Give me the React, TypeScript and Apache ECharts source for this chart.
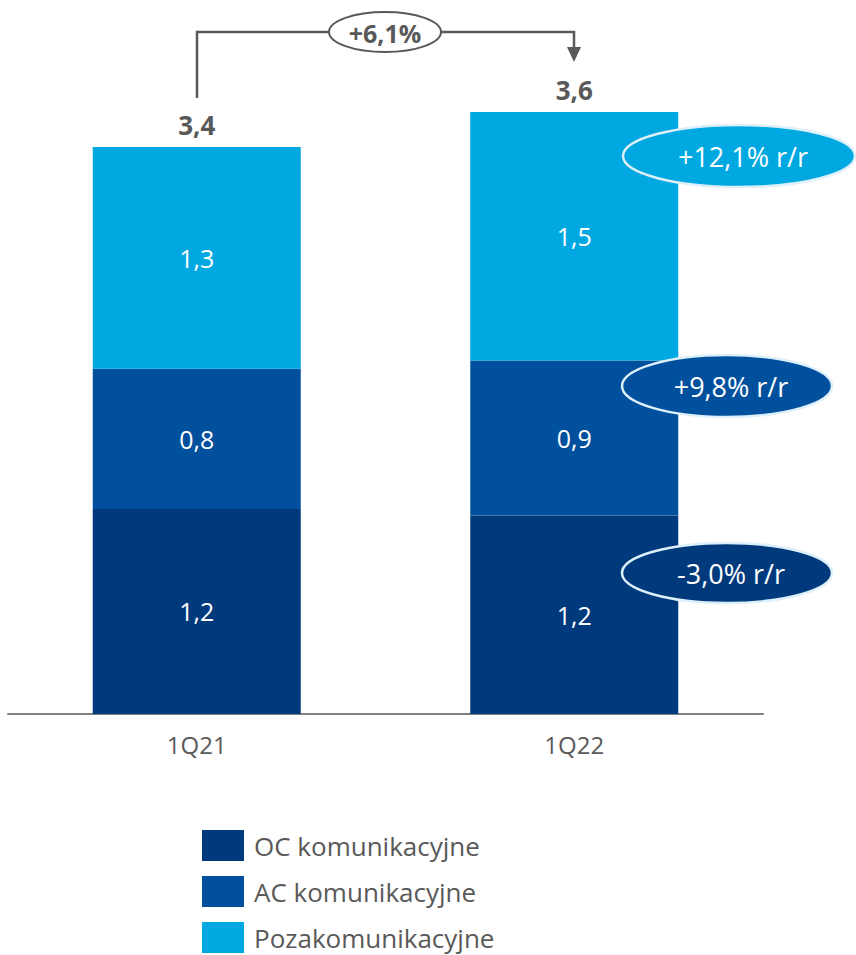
import React, { useEffect, useRef } from "react";
import * as echarts from "echarts";

const categories = ["1Q21", "1Q22"];
const seriesNames = ["OC komunikacyjne", "AC komunikacyjne", "Pozakomunikacyjne"];
const ocValues = [1.23, 1.19];
const acValues = [0.84, 0.93];
const pozaValues = [1.33, 1.49];
const totals = [3.4, 3.6];
const changeLabel = "+6,1%";
const yoyLabels = ["+12,1% r/r", "+9,8% r/r", "-3,0% r/r"];

const COLORS = ["#003A7D", "#00509E", "#00A8E1"];
const GRAY = "#595959";
const FONT = "'Open Sans', 'Noto Sans', sans-serif";

const fmt = (v: number) => v.toFixed(1).replace(".", ",");

export default function App() {
  const ref = useRef<HTMLDivElement>(null);
  useEffect(() => {
    document.body.style.margin = "0";
    const chart = echarts.init(ref.current!, undefined, { renderer: "svg" });
    const segLabel = {
      show: true,
      position: "inside" as const,
      color: "#ffffff",
      fontSize: 25,
      fontFamily: FONT,
      formatter: (p: any) => fmt(p.value),
    };
    const option: any = {
      animation: false,
      grid: { left: 8, right: 93, top: 47, bottom: 241, containLabel: false },
      xAxis: {
        type: "category",
        data: categories,
        axisLine: { lineStyle: { color: "#808080", width: 2 } },
        axisTick: { show: false },
        axisLabel: { color: GRAY, fontSize: 24, fontFamily: FONT, margin: 18 },
      },
      yAxis: { type: "value", min: 0, max: 4, show: false, splitLine: { show: false } },
      legend: {
        orient: "vertical",
        left: 202,
        top: 830,
        height: 130,
        padding: 0,
        itemWidth: 42,
        itemHeight: 31,
        itemGap: 15,
        icon: "rect",
        data: seriesNames,
        textStyle: { color: GRAY, fontSize: 26, fontFamily: FONT, padding: [0, 0, 0, 5] },
      },
      series: [
        { name: seriesNames[0], type: "bar", stack: "a", data: ocValues, barWidth: 208, itemStyle: { color: COLORS[0] }, label: segLabel },
        { name: seriesNames[1], type: "bar", stack: "a", data: acValues, itemStyle: { color: COLORS[1] }, label: segLabel },
        { name: seriesNames[2], type: "bar", stack: "a", data: pozaValues, itemStyle: { color: COLORS[2] }, label: segLabel },
        {
          name: "total",
          type: "bar",
          stack: "a",
          data: [0, 0],
          itemStyle: { color: "transparent" },
          label: {
            show: true,
            position: "top",
            distance: 9,
            color: GRAY,
            fontSize: 26,
            fontWeight: "bold",
            fontFamily: FONT,
            formatter: (p: any) => fmt(totals[p.dataIndex]),
          },
        },
      ],
    };
    chart.setOption(option);

    const sum1 = ocValues[0] + acValues[0] + pozaValues[0];
    const sum2 = ocValues[1] + acValues[1] + pozaValues[1];
    const p1 = chart.convertToPixel({ xAxisIndex: 0, yAxisIndex: 0 }, [0, sum1]) as number[];
    const p2 = chart.convertToPixel({ xAxisIndex: 0, yAxisIndex: 0 }, [1, sum2]) as number[];
    const topY = 32;
    const x1 = Math.round(p1[0]);
    const x2 = Math.round(p2[0]);
    const bottom1 = p1[1] - 49;
    const tip2 = p2[1] - 50;
    const midX = 385;

    const ellipse = (cx: number, cy: number, rx: number, ry: number, fill: string, text: string) => [
      {
        type: "ellipse",
        shape: { cx, cy, rx, ry },
        style: { fill, stroke: "#dcefFa", lineWidth: 2.5 },
        z: 100,
      },
      {
        type: "text",
        x: cx + 4,
        y: cy,
        style: {
          text,
          fill: "#ffffff",
          fontSize: 27,
          fontFamily: FONT,
          align: "center",
          verticalAlign: "middle",
        },
        z: 101,
      },
    ];

    chart.setOption({
      graphic: [
        {
          type: "polyline",
          shape: { points: [[x1, bottom1], [x1, topY], [x2, topY], [x2, tip2 - 14]] },
          style: { stroke: GRAY, lineWidth: 2.5, fill: null },
          z: 90,
        },
        {
          type: "polygon",
          shape: { points: [[x2 - 7, tip2 - 15], [x2 + 7, tip2 - 15], [x2, tip2]] },
          style: { fill: GRAY },
          z: 90,
        },
        {
          type: "ellipse",
          shape: { cx: midX, cy: topY, rx: 56, ry: 20 },
          style: { fill: "#ffffff", stroke: GRAY, lineWidth: 2 },
          z: 95,
        },
        {
          type: "text",
          x: midX,
          y: topY + 1,
          style: {
            text: changeLabel,
            fill: GRAY,
            fontSize: 25,
            fontWeight: "bold",
            fontFamily: FONT,
            align: "center",
            verticalAlign: "middle",
          },
          z: 96,
        },
        ...ellipse(739, 156, 116, 31, COLORS[2], yoyLabels[0]),
        ...ellipse(727, 386, 105, 31, COLORS[1], yoyLabels[1]),
        ...ellipse(727, 573, 105, 30, COLORS[0], yoyLabels[2]),
      ],
    });
    return () => chart.dispose();
  }, []);
  return <div ref={ref} style={{ width: 856, height: 955 }} />;
}
